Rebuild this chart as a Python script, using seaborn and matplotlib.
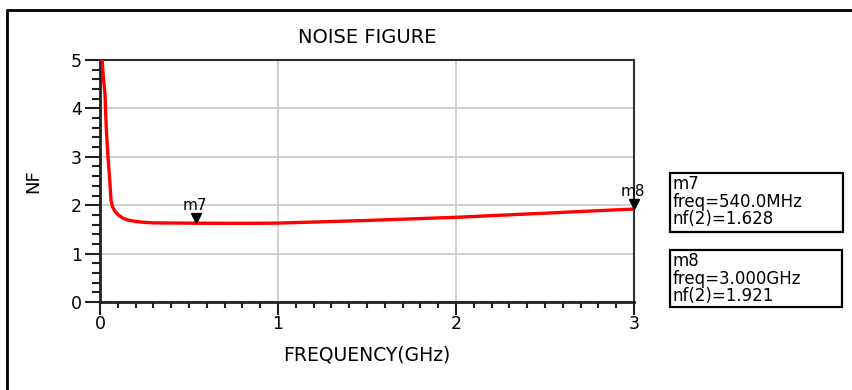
import matplotlib
matplotlib.use("Agg")
import matplotlib.pyplot as plt
import matplotlib.transforms as mtransforms
from matplotlib.lines import Line2D
from matplotlib.patches import Rectangle
from matplotlib.ticker import MultipleLocator
import seaborn as sns
import pandas as pd

# ---- data ----
freq_ghz = [0.005, 0.012, 0.02, 0.028, 0.035, 0.045, 0.055, 0.062, 0.07, 0.085,
            0.105, 0.13, 0.16, 0.20, 0.25, 0.30, 0.54, 0.80, 1.0, 1.5, 2.0, 2.5, 3.0]
nf_db = [6.0, 5.0, 4.6, 4.3, 3.6, 3.0, 2.5, 2.1, 1.97, 1.87,
         1.79, 1.73, 1.69, 1.665, 1.645, 1.635, 1.628, 1.625, 1.63, 1.685, 1.75, 1.835, 1.921]
marker_names = ["m7", "m8"]
marker_freq = [0.54, 3.0]
marker_nf = [1.628, 1.921]
marker_text = ["m7\nfreq=540.0MHz\nnf(2)=1.628", "m8\nfreq=3.000GHz\nnf(2)=1.921"]
x_ticks = [0, 1, 2, 3]
y_ticks = [0, 1, 2, 3, 4, 5]

sns.set_style("white")
plt.rcParams["font.family"] = ["DejaVu Sans"]
plt.rcParams["text.color"] = "black"
plt.rcParams["axes.labelcolor"] = "black"
plt.rcParams["xtick.labelcolor"] = "black"
plt.rcParams["ytick.labelcolor"] = "black"

W, H = 852, 390
fig = plt.figure(figsize=(W / 100, H / 100), dpi=100)
ax = fig.add_axes([100 / W, 1 - 302 / H, 534 / W, 242 / H])

df = pd.DataFrame({"freq": freq_ghz, "nf": nf_db})
sns.lineplot(data=df, x="freq", y="nf", ax=ax, color="#ff0000", lw=2.4, zorder=3)

ax.set_xlim(0, 3)
ax.set_ylim(0, 5)
ax.set_xticks(x_ticks)
ax.set_yticks(y_ticks)
ax.xaxis.set_minor_locator(MultipleLocator(0.1))
ax.yaxis.set_minor_locator(MultipleLocator(0.2))
ax.grid(True, which="major", color="#c8c8c8", lw=1.2)
ax.set_axisbelow(True)

for s in ["left", "bottom"]:
    ax.spines[s].set_linewidth(2.0)
    ax.spines[s].set_color("#202020")
for s in ["top", "right"]:
    ax.spines[s].set_linewidth(1.5)
    ax.spines[s].set_color("#303030")

ax.tick_params(axis="y", which="major", direction="out", length=11, width=1.5,
               color="#202020", labelcolor="black", labelsize=12.5, pad=2, left=True)
ax.tick_params(axis="y", which="minor", direction="out", length=6, width=1.5,
               color="#202020", left=True)
ax.tick_params(axis="x", which="major", direction="out", length=9, width=1.5,
               color="#202020", labelcolor="black", labelsize=12.5, pad=0.5, bottom=True)
ax.tick_params(axis="x", which="minor", direction="out", length=4, width=1.5,
               color="#202020", bottom=True)

ax.set_xlabel("FREQUENCY(GHz)", fontsize=13.5, labelpad=9, color="black")
ax.set_ylabel("NF", fontsize=13, labelpad=21, color="black")
ax.set_title("NOISE FIGURE", fontsize=14, pad=12, color="black")

# markers
for name, fx, fy in zip(marker_names, marker_freq, marker_nf):
    tr = mtransforms.offset_copy(ax.transData, fig=fig, x=0, y=3.5, units="points")
    ax.plot([fx], [fy], marker="v", color="black", ms=6.5, transform=tr,
            clip_on=False, zorder=5)
    ax.annotate(name, (fx, fy), xytext=(-1, 7), textcoords="offset points",
                ha="center", va="bottom", fontsize=11, color="black",
                annotation_clip=False)

# readout boxes (pixel extents)
boxes = [(670, 173, 843, 232), (670, 250, 842, 307)]
for txt, (x0, y0, x1, y1) in zip(marker_text, boxes):
    fig.add_artist(Rectangle((x0 / W, 1 - y1 / H), (x1 - x0) / W, (y1 - y0) / H,
                             transform=fig.transFigure, fill=True, fc="white",
                             ec="black", lw=1.6))
    fig.text((x0 + 3) / W, 1 - (y0 + 2) / H, txt, fontsize=12, ha="left", va="top",
             linespacing=0.98, color="black")

# outer frame (clipped by image edge)
fig.add_artist(Line2D([7 / W, 7 / W], [1 - 10 / H, 0], color="black", lw=2))
fig.add_artist(Line2D([7 / W, 1], [1 - 10 / H, 1 - 10 / H], color="black", lw=2))

fig.savefig("out.png", dpi=100)
